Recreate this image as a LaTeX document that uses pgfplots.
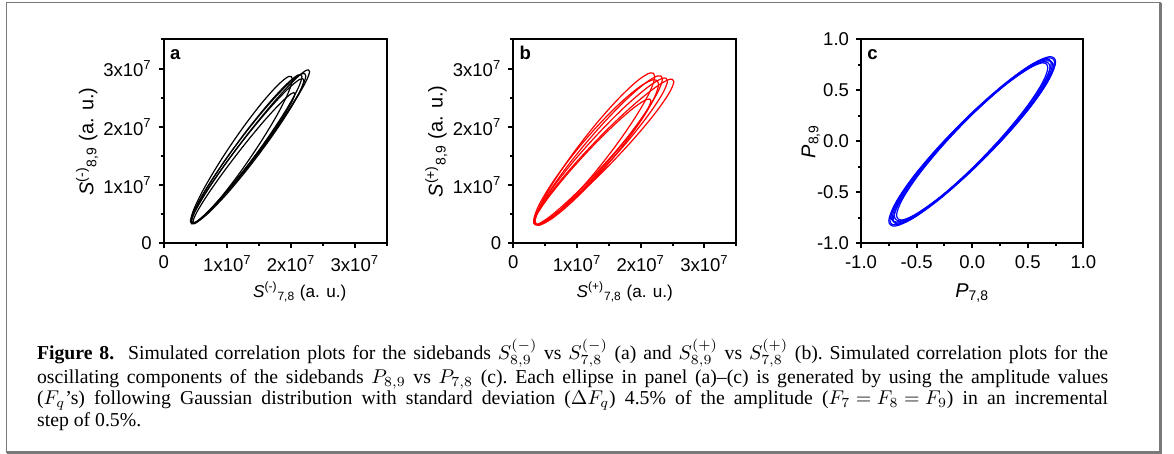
\documentclass[border=0pt]{standalone}
\usepackage{fontspec}
\setmainfont{Liberation Serif}
\newfontfamily\plotfont{Liberation Sans}
\usepackage{pgfplots}
\pgfplotsset{compat=1.18}

% plot text sizes
\newcommand\pf{\plotfont\fontsize{9.3}{11}\selectfont}
\newcommand\lf{\plotfont\fontsize{10}{12}\selectfont}
\newcommand\xf{\plotfont\fontsize{8.6}{10}\selectfont}

\pgfplotsset{
  panel/.style={
    scale only axis,
    width=111.5bp, height=102bp,
    anchor=south west,
    axis line style={line width=1bp},
    tick align=outside,
    xtick pos=left, ytick pos=left,
    major tick length=2.5bp, minor tick length=1.5bp,
    every tick/.style={line width=1bp, black},
    tick label style={font=\pf},
    label style={font=\lf},
    xlabel style={anchor=base},
  },
  bigpanel/.style={
    panel,
    xmin=0, xmax=3.5, ymin=0, ymax=3.5,
    xtick={0,1,2,3}, ytick={0,1,2,3},
    minor xtick={0.5,1.5,2.5,3.5}, minor ytick={0.5,1.5,2.5,3.5},
    xticklabels={0,1x10\textsuperscript{7},2x10\textsuperscript{7},3x10\textsuperscript{7}},
    yticklabels={0,1x10\textsuperscript{7},2x10\textsuperscript{7},3x10\textsuperscript{7}},
    xlabel style={font=\xf},
  },
  ell/.style={line width=0.6bp, smooth cycle, tension=0.55},
}

\begin{document}
\begin{tikzpicture}
\path[use as bounding box] (0,0) rectangle (587bp,227bp);

% frame
\draw[gray!95!black, line width=0.6bp] (3.35bp,1bp) rectangle (580bp,225.7bp);
\draw[gray!95!black, line width=1.3bp] (3.35bp,0.9bp) -- (580.3bp,0.9bp) -- (580.3bp,225.7bp);

% (a)  values in units of 1e7
\begin{axis}[bigpanel, at={(81.85bp,105.3bp)},
  xlabel={\textit{S}\textsuperscript{(-)}\textsubscript{7,8} (a. u.)},
  ylabel={\textit{S}\textsuperscript{(-)}\textsubscript{8,9} (a. u.)},
  xlabel style={at={(axis description cs:0.61,0)}, yshift=-27.3bp},
  ylabel style={at={(axis description cs:-0.344,0.5)}, anchor=center},
]
\addplot[black, ell] coordinates {(2.170,2.862) (2.104,2.887) (1.915,2.717) (1.633,2.382) (1.300,1.930) (0.967,1.430) (0.685,0.961) (0.496,0.591) (0.430,0.378) (0.496,0.353) (0.685,0.523) (0.967,0.858) (1.300,1.310) (1.633,1.810) (1.915,2.279) (2.104,2.649)};
\addplot[black, ell] coordinates {(2.290,2.951) (2.219,2.958) (2.018,2.767) (1.716,2.407) (1.360,1.934) (1.004,1.419) (0.702,0.941) (0.501,0.572) (0.430,0.369) (0.501,0.362) (0.702,0.553) (1.004,0.913) (1.360,1.386) (1.716,1.901) (2.018,2.379) (2.219,2.748)};
\addplot[black, ell] coordinates {(2.020,2.821) (1.959,2.862) (1.786,2.710) (1.526,2.390) (1.220,1.950) (0.914,1.456) (0.654,0.984) (0.481,0.606) (0.420,0.379) (0.481,0.338) (0.654,0.490) (0.914,0.810) (1.220,1.250) (1.526,1.744) (1.786,2.216) (1.959,2.594)};
\addplot[black, ell] coordinates {(2.200,2.798) (2.133,2.813) (1.942,2.641) (1.657,2.311) (1.320,1.869) (0.983,1.385) (0.698,0.933) (0.507,0.581) (0.440,0.382) (0.507,0.367) (0.698,0.539) (0.983,0.869) (1.320,1.311) (1.657,1.795) (1.942,2.247) (2.133,2.599)};
\addplot[black, ell] coordinates {(2.060,2.569) (1.999,2.567) (1.826,2.398) (1.566,2.089) (1.260,1.684) (0.954,1.247) (0.694,0.844) (0.521,0.537) (0.460,0.371) (0.521,0.373) (0.694,0.542) (0.954,0.851) (1.260,1.256) (1.566,1.693) (1.826,2.096) (1.999,2.403)};
\addplot[black, ell] coordinates {(2.230,2.876) (2.162,2.909) (1.966,2.747) (1.674,2.416) (1.330,1.964) (0.986,1.462) (0.694,0.985) (0.498,0.607) (0.430,0.384) (0.498,0.351) (0.694,0.513) (0.986,0.844) (1.330,1.296) (1.674,1.798) (1.966,2.275) (2.162,2.653)};
\node[anchor=base west, inner sep=0, font=\pf\bfseries, xshift=3bp, yshift=-10bp] at (rel axis cs:0,1) {a};
\end{axis}

% (b)
\begin{axis}[bigpanel, at={(256.65bp,105.3bp)},
  xlabel={\textit{S}\textsuperscript{(+)}\textsubscript{7,8} (a. u.)},
  ylabel={\textit{S}\textsuperscript{(+)}\textsubscript{8,9} (a. u.)},
  xlabel style={at={(axis description cs:0.5,0)}, yshift=-27.3bp},
  ylabel style={at={(axis description cs:-0.345,0.5)}, anchor=center},
]
\addplot[red, ell] coordinates {(2.520,2.777) (2.436,2.809) (2.198,2.652) (1.841,2.331) (1.420,1.894) (0.999,1.407) (0.642,0.946) (0.404,0.579) (0.320,0.363) (0.404,0.331) (0.642,0.488) (0.999,0.809) (1.420,1.246) (1.841,1.733) (2.198,2.194) (2.436,2.561)};
\addplot[red, ell] coordinates {(2.220,2.866) (2.149,2.926) (1.945,2.787) (1.640,2.471) (1.280,2.025) (0.920,1.517) (0.615,1.025) (0.411,0.624) (0.340,0.374) (0.411,0.314) (0.615,0.453) (0.920,0.769) (1.280,1.215) (1.640,1.723) (1.945,2.215) (2.149,2.616)};
\addplot[red, ell] coordinates {(2.160,2.448) (2.090,2.468) (1.890,2.326) (1.592,2.042) (1.240,1.661) (0.888,1.240) (0.590,0.844) (0.390,0.532) (0.320,0.352) (0.390,0.332) (0.590,0.474) (0.888,0.758) (1.240,1.139) (1.592,1.560) (1.890,1.956) (2.090,2.268)};
\addplot[red, ell] coordinates {(2.340,2.824) (2.264,2.874) (2.047,2.729) (1.723,2.415) (1.340,1.974) (0.957,1.477) (0.633,0.999) (0.416,0.612) (0.340,0.376) (0.416,0.326) (0.633,0.471) (0.957,0.785) (1.340,1.226) (1.723,1.723) (2.047,2.201) (2.264,2.588)};
\addplot[red, ell] coordinates {(2.280,2.735) (2.206,2.810) (1.993,2.694) (1.675,2.405) (1.300,1.988) (0.925,1.505) (0.607,1.032) (0.394,0.638) (0.320,0.385) (0.394,0.310) (0.607,0.426) (0.925,0.715) (1.300,1.132) (1.675,1.615) (1.993,2.088) (2.206,2.482)};
\addplot[red, ell] coordinates {(2.420,2.791) (2.340,2.832) (2.112,2.681) (1.772,2.365) (1.370,1.927) (0.968,1.437) (0.628,0.969) (0.400,0.594) (0.320,0.369) (0.400,0.328) (0.628,0.479) (0.968,0.795) (1.370,1.233) (1.772,1.723) (2.112,2.191) (2.340,2.566)};
\node[anchor=base west, inner sep=0, font=\pf\bfseries, xshift=3bp, yshift=-10bp] at (rel axis cs:0,1) {b};
\end{axis}

% (c)
\begin{axis}[panel, at={(430.5bp,105.3bp)}, width=111.2bp,
  xmin=-1, xmax=1, ymin=-1, ymax=1,
  xtick={-1,-0.5,0,0.5,1}, ytick={-1,-0.5,0,0.5,1},
  minor tick num=1,
  xticklabels={-1.0,-0.5,0.0,0.5,1.0},
  yticklabels={-1.0,-0.5,0.0,0.5,1.0},
  xlabel={\textit{P}\textsubscript{7,8}},
  ylabel={\textit{P}\textsubscript{8,9}},
  xlabel style={at={(axis description cs:0.5,0)}, yshift=-27.3bp},
  ylabel style={at={(axis description cs:-0.225,0.5)}, anchor=center},
]
\addplot[blue, ell] coordinates {(0.720,0.752) (0.665,0.800) (0.509,0.726) (0.276,0.541) (0,0.274) (-0.276,-0.035) (-0.509,-0.338) (-0.665,-0.590) (-0.720,-0.752) (-0.665,-0.800) (-0.509,-0.726) (-0.276,-0.541) (0,-0.274) (0.276,0.035) (0.509,0.338) (0.665,0.590)};
\addplot[blue, ell] coordinates {(0.700,0.728) (0.647,0.780) (0.495,0.713) (0.268,0.538) (0,0.280) (-0.268,-0.020) (-0.495,-0.317) (-0.647,-0.566) (-0.700,-0.728) (-0.647,-0.780) (-0.495,-0.713) (-0.268,-0.538) (0,-0.280) (0.268,0.020) (0.495,0.317) (0.647,0.566)};
\addplot[blue, ell] coordinates {(0.740,0.775) (0.684,0.818) (0.523,0.737) (0.283,0.544) (0,0.267) (-0.283,-0.050) (-0.523,-0.359) (-0.684,-0.614) (-0.740,-0.775) (-0.684,-0.818) (-0.523,-0.737) (-0.283,-0.544) (0,-0.267) (0.283,0.050) (0.523,0.359) (0.684,0.614)};
\addplot[blue, ell] coordinates {(0.710,0.764) (0.656,0.809) (0.502,0.731) (0.272,0.542) (0,0.270) (-0.272,-0.044) (-0.502,-0.349) (-0.656,-0.603) (-0.710,-0.764) (-0.656,-0.809) (-0.502,-0.731) (-0.272,-0.542) (0,-0.270) (0.272,0.044) (0.502,0.349) (0.656,0.603)};
\addplot[blue, ell] coordinates {(0.730,0.740) (0.675,0.790) (0.516,0.719) (0.280,0.539) (0,0.277) (-0.280,-0.027) (-0.516,-0.327) (-0.675,-0.578) (-0.730,-0.740) (-0.675,-0.790) (-0.516,-0.719) (-0.280,-0.539) (0,-0.277) (0.280,0.027) (0.516,0.327) (0.675,0.578)};
\addplot[blue, ell] coordinates {(0.680,0.724) (0.628,0.770) (0.481,0.698) (0.260,0.520) (0,0.263) (-0.260,-0.034) (-0.481,-0.326) (-0.628,-0.568) (-0.680,-0.724) (-0.628,-0.770) (-0.481,-0.698) (-0.260,-0.520) (0,-0.263) (0.260,0.034) (0.481,0.326) (0.628,0.568)};
\addplot[blue, ell] coordinates {(0.750,0.780) (0.693,0.830) (0.530,0.752) (0.287,0.561) (0,0.284) (-0.287,-0.037) (-0.530,-0.350) (-0.693,-0.612) (-0.750,-0.780) (-0.693,-0.830) (-0.530,-0.752) (-0.287,-0.561) (0,-0.284) (0.287,0.037) (0.530,0.350) (0.693,0.612)};
\node[anchor=base west, inner sep=0, font=\pf\bfseries, xshift=3bp, yshift=-10bp] at (rel axis cs:0,1) {c};
\end{axis}

% caption
\node[anchor=north west, inner sep=0, text width=535.5bp, align=justify,
      font=\fontsize{9.9}{10.85}\selectfont] at (18.35bp,57.9bp)
{\frenchspacing\thickmuskip=5mu\relax\medmuskip=4mu\relax
\rule{0pt}{9bp}\textbf{Figure 8.}\hspace{0.7em}Simulated correlation plots for the sidebands $S^{(-)}_{8{,}9}$ vs $S^{(-)}_{7{,}8}$ (a) and $S^{(+)}_{8{,}9}$ vs $S^{(+)}_{7{,}8}$ (b). Simulated correlation plots for the\linebreak
oscillating components of the sidebands $P_{8{,}9}$ vs $P_{7{,}8}$ (c). Each ellipse in panel (a)--(c) is generated by using the amplitude values\linebreak
($F_q$'s) following Gaussian distribution with standard deviation ($\Delta F_q$) 4.5\% of the amplitude ($F_7=F_8=F_9$) in an incremental\linebreak
step of 0.5\%.};
\end{tikzpicture}
\end{document}
